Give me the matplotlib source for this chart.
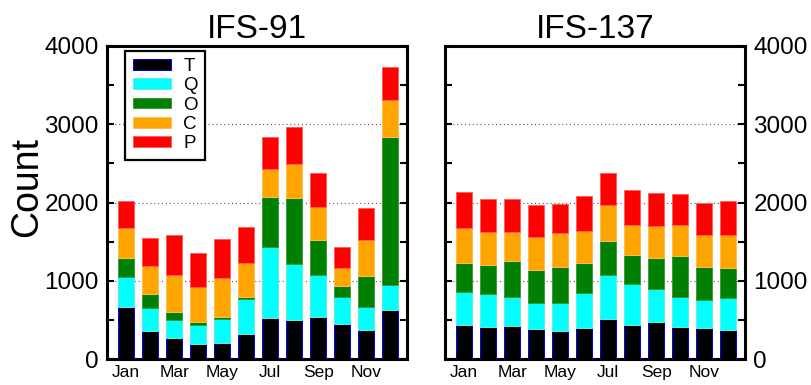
import matplotlib
matplotlib.use("Agg")
import matplotlib.pyplot as plt
import numpy as np

plt.rcParams['font.family'] = ['Liberation Sans', 'DejaVu Sans']

months = ["Jan", "Feb", "Mar", "Apr", "May", "Jun",
          "Jul", "Aug", "Sep", "Oct", "Nov", "Dec"]
month_ticks = [1, 3, 5, 7, 9, 11]
month_tick_labels = ["Jan", "Mar", "May", "Jul", "Sep", "Nov"]
categories = ["T", "Q", "O", "C", "P"]

# Monthly counts per category, IFS-91
ifs91_T = [663, 357, 272, 187, 208, 319, 523, 502, 540, 451, 374, 629]
ifs91_Q = [391, 289, 230, 247, 302, 446, 905, 718, 535, 340, 285, 323]
ifs91_O = [243, 187, 102, 42, 21, 21, 642, 833, 451, 144, 404, 1888]
ifs91_C = [378, 353, 471, 446, 502, 447, 361, 438, 417, 234, 463, 476]
ifs91_P = [340, 357, 511, 434, 506, 450, 404, 468, 429, 264, 400, 416]

# Monthly counts per category, IFS-137
ifs137_T = [431, 409, 422, 384, 354, 401, 516, 431, 469, 409, 397, 371]
ifs137_Q = [430, 423, 367, 337, 362, 443, 563, 528, 431, 388, 354, 409]
ifs137_O = [371, 375, 465, 422, 461, 380, 435, 367, 388, 516, 426, 380]
ifs137_C = [444, 418, 371, 418, 435, 414, 448, 388, 413, 401, 409, 431]
ifs137_P = [456, 418, 418, 401, 375, 439, 413, 444, 423, 401, 410, 426]

fill_colors = ["black", "cyan", "green", "orange", "red"]
edge_colors = ["blue", "#60f0e0", "#3a9a3a", "#ffbf50", "#ff6060"]

W, H = 812, 385
fig = plt.figure(figsize=(W / 100, H / 100), dpi=100)
ax_l = fig.add_axes([107 / W, 26 / H, 300 / W, 313 / H])
ax_r = fig.add_axes([445 / W, 26 / H, 300 / W, 313 / H])

x = np.arange(1, 13)


def draw_panel(ax, series, title):
    bottom = np.zeros(len(x))
    handles = []
    for vals, fc, ec, name in zip(series, fill_colors, edge_colors, categories):
        vals = np.asarray(vals, dtype=float)
        h = ax.bar(x, vals, width=0.65, bottom=bottom, color=fc,
                   edgecolor=ec, linewidth=0.7, label=name, zorder=3)
        handles.append(h)
        bottom += vals
    ax.set_xlim(0.2, 12.7)
    ax.set_ylim(0, 4000)
    ax.set_yticks([0, 1000, 2000, 3000, 4000])
    ax.set_yticks([500, 1500, 2500, 3500], minor=True)
    ax.set_xticks(month_ticks)
    ax.set_xticklabels(month_tick_labels, fontsize=12.5)
    for v in (1000, 2000, 3000):
        ax.axhline(v, color="#555555", linestyle=(0, (1, 2.5)),
                   linewidth=0.8, zorder=1)
    ax.tick_params(axis="y", which="both", direction="in", left=True,
                   right=True, length=5, width=1.5, labelsize=17.5, pad=6)
    ax.tick_params(axis="x", length=0, pad=4)
    for sp in ax.spines.values():
        sp.set_linewidth(2.2)
    ax.set_title(title, fontsize=24, pad=6)
    return handles


handles = draw_panel(ax_l, [ifs91_T, ifs91_Q, ifs91_O, ifs91_C, ifs91_P], "IFS-91")
draw_panel(ax_r, [ifs137_T, ifs137_Q, ifs137_O, ifs137_C, ifs137_P], "IFS-137")

ax_r.tick_params(axis="y", labelleft=False, labelright=True)

ax_l.set_ylabel("Count", fontsize=27)
ax_l.yaxis.set_label_coords(-0.205, 0.55)

leg = ax_l.legend(handles=handles, loc="upper left",
                  bbox_to_anchor=(0.06, 0.985), borderaxespad=0,
                  fontsize=13.5, handlelength=2.05, handleheight=0.5,
                  labelspacing=0.12, handletextpad=0.65, borderpad=0.4,
                  fancybox=False, framealpha=1, edgecolor="black")
leg.get_frame().set_linewidth(1.6)

fig.savefig("out.png", dpi=100)
